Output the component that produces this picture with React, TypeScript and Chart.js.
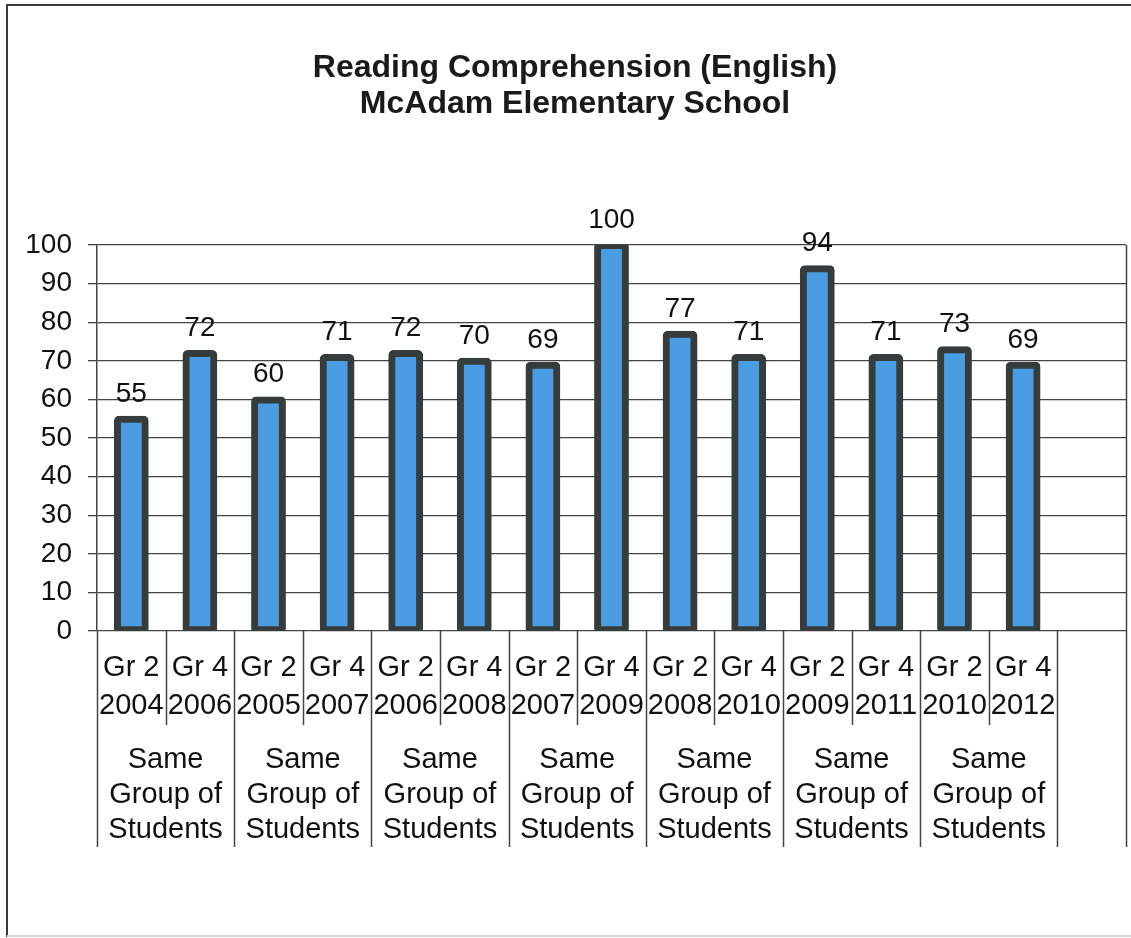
import React, { useEffect, useRef } from "react";
import { Chart, registerables } from "chart.js";

Chart.register(...registerables);

const titleLines = ["Reading Comprehension (English)", "McAdam Elementary School"];
const grades = ["Gr 2", "Gr 4", "Gr 2", "Gr 4", "Gr 2", "Gr 4", "Gr 2", "Gr 4", "Gr 2", "Gr 4", "Gr 2", "Gr 4", "Gr 2", "Gr 4", ""];
const years = ["2004", "2006", "2005", "2007", "2006", "2008", "2007", "2009", "2008", "2010", "2009", "2011", "2010", "2012", ""];
const scores: (number | null)[] = [55, 72, 60, 71, 72, 70, 69, 100, 77, 71, 94, 71, 73, 69, null];
const groupLabel = ["Same", "Group of", "Students"];
const groupCenters = [1, 3, 5, 7, 9, 11, 13];
const yMin = 0;
const yMax = 100;
const yStep = 10;

const FONT = "'Liberation Sans', Arial, sans-serif";

const decorPlugin = {
  id: "decor",
  beforeDraw(chart: any) {
    const ctx = chart.ctx;
    ctx.save();
    ctx.fillStyle = "#ffffff";
    ctx.fillRect(0, 0, chart.width, chart.height);
    ctx.lineWidth = 2;
    ctx.strokeStyle = "#3a3a3a";
    ctx.beginPath();
    ctx.moveTo(7, 937);
    ctx.lineTo(7, 5);
    ctx.lineTo(chart.width, 5);
    ctx.stroke();
    ctx.strokeStyle = "#d8d8d8";
    ctx.beginPath();
    ctx.moveTo(7, 936);
    ctx.lineTo(chart.width, 936);
    ctx.stroke();
    ctx.restore();
  },
  afterDraw(chart: any) {
    const ctx = chart.ctx;
    const area = chart.chartArea;
    const xs = chart.scales.x;
    const x2 = chart.scales.x2;
    const n = grades.length;
    const w = (area.right - area.left) / n;
    ctx.save();
    ctx.strokeStyle = "#444444";
    ctx.lineWidth = 1.5;
    for (let i = 0; i <= n; i++) {
      const px = Math.round(area.left + i * w) + 0.5;
      const full = i % 2 === 0 || i === n;
      ctx.beginPath();
      ctx.moveTo(px, area.bottom);
      ctx.lineTo(px, full ? x2.bottom : xs.bottom);
      ctx.stroke();
    }
    ctx.beginPath();
    ctx.moveTo(Math.round(area.right) + 0.5, area.top);
    ctx.lineTo(Math.round(area.right) + 0.5, area.bottom);
    ctx.stroke();
    ctx.restore();
  },
  afterDatasetsDraw(chart: any) {
    const ctx = chart.ctx;
    const meta = chart.getDatasetMeta(0);
    ctx.save();
    ctx.font = `28px ${FONT}`;
    ctx.fillStyle = "#111111";
    ctx.textAlign = "center";
    ctx.textBaseline = "alphabetic";
    meta.data.forEach((bar: any, i: number) => {
      const v = scores[i];
      if (v === null || v === undefined) return;
      ctx.fillText(String(v), bar.x, bar.y - 17);
    });
    ctx.restore();
  },
};

export default function App() {
  const ref = useRef<HTMLCanvasElement | null>(null);

  useEffect(() => {
    if (!ref.current) return;
    const chart = new Chart(ref.current, {
      type: "bar",
      data: {
        labels: grades.map((g, i) => [g, years[i]]),
        datasets: [
          {
            data: scores,
            backgroundColor: "#4a9de2",
            borderColor: "#363c3c",
            borderWidth: 7,
            borderRadius: 5,
            borderSkipped: false,
            inflateAmount: 3,
            barPercentage: 0.42,
            categoryPercentage: 1,
            xAxisID: "x",
            yAxisID: "y",
          },
        ],
      },
      options: {
        responsive: false,
        animation: false,
        devicePixelRatio: 1,
        layout: { padding: { left: 24, right: 5, top: 30, bottom: 91 } },
        plugins: {
          legend: { display: false },
          tooltip: { enabled: false },
          title: {
            display: true,
            text: titleLines,
            color: "#1a1a1a",
            font: { family: FONT, size: 32, weight: "bold", lineHeight: 1.1 },
            padding: { top: 21, bottom: 123.6 },
          },
        },
        scales: {
          x: {
            type: "category",
            position: "bottom",
            weight: 0,
            offset: true,
            grid: { display: false },
            border: { display: false },
            ticks: {
              color: "#111111",
              font: { family: FONT, size: 29, lineHeight: 1.3 },
              padding: 10,
              maxRotation: 0,
              autoSkip: false,
            },
            afterFit: (s: any) => {
              s.height = 94;
            },
          },
          x2: {
            type: "linear",
            position: "bottom",
            weight: 1,
            min: 0,
            max: grades.length,
            offset: false,
            grid: { display: false, offset: false },
            border: { display: false },
            afterBuildTicks: (s: any) => {
              s.ticks = groupCenters.map((v) => ({ value: v }));
            },
            ticks: {
              color: "#111111",
              font: { family: FONT, size: 29, lineHeight: 1.22 },
              padding: 9,
              maxRotation: 0,
              autoSkip: false,
              callback: () => groupLabel,
            },
            afterFit: (s: any) => {
              s.height = 122;
            },
          },
          y: {
            min: yMin,
            max: yMax,
            ticks: {
              stepSize: yStep,
              color: "#111111",
              font: { family: FONT, size: 28 },
              padding: 16,
            },
            grid: { color: "#444444", lineWidth: 1.3, tickLength: 9 },
            border: { display: true, color: "#444444", width: 1.5 },
            afterFit: (s: any) => {
              s.width = 73;
            },
          },
        },
      },
      plugins: [decorPlugin],
    });
    return () => chart.destroy();
  }, []);

  return (
    <div style={{ position: "absolute", left: 0, top: 0, width: 1131, height: 938 }}>
      <canvas ref={ref} width={1131} height={938} />
    </div>
  );
}
